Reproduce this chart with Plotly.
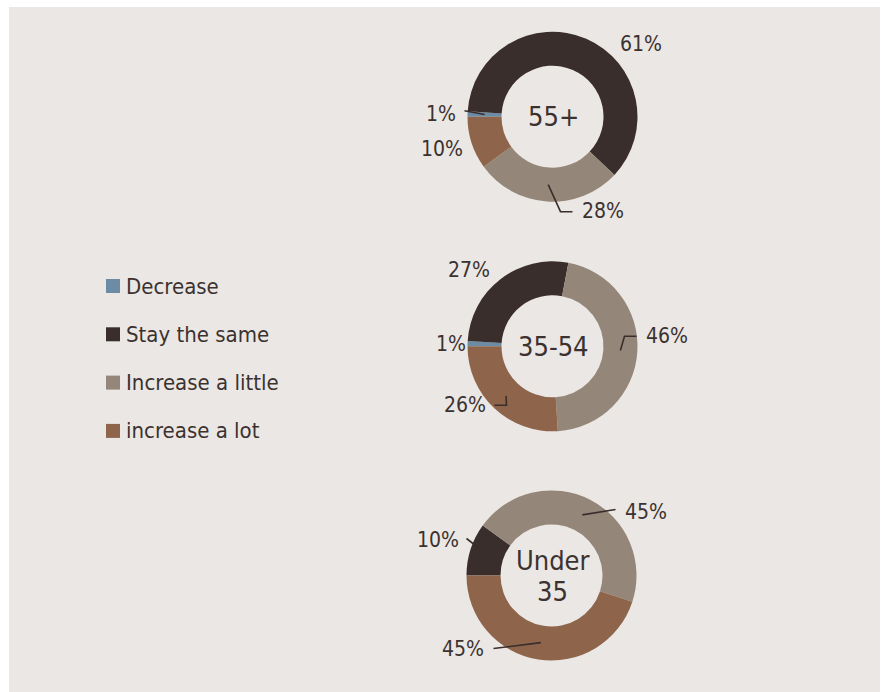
import math
import plotly.graph_objects as go

# ---- data ----
categories = ["Decrease", "Stay the same", "Increase a little", "increase a lot"]
colors = ["#6c8ba4", "#3a2e2c", "#948679", "#8e654b"]
groups = ["55+", "35-54", "Under 35"]
values_55 = [1, 61, 28, 10]
values_35_54 = [1, 27, 46, 26]
values_under35 = [0, 10, 45, 45]
series = [values_55, values_35_54, values_under35]
center_texts = [["55+"], ["35-54"], ["Under", "35"]]

# ---- layout config (pixels) ----
W, H = 885, 692
R = 85
HOLE = 0.6
centers = [(552.5, 116.7), (552.5, 346.3), (551.5, 575.5)]
ROT = 270
FONT = "Liberation Sans Narrow, Arial Narrow, DejaVu Sans Condensed, sans-serif"
TXT = "#3b3230"
BG = "#ebe7e4"

# label placement per group: slice index -> (dx, dy of label centre, leader vertices relative to centre or None)
label_cfg = [
    {0: ((-112, -3), [(-88, -6)]),
     1: ((88, -73), None),
     2: ((50, 94), [(8, 95), (20, 95)]),
     3: ((-111, 32), None)},
    {0: ((-101, -2), None),
     1: ((-83, -76), None),
     2: ((114, -10), [(72, -10), (84, -10)]),
     3: ((-88, 59), [(-46, 59), (-58, 59)])},
    {1: ((-114, -36), [(-85, -37)]),
     2: ((94, -64), [(64, -66)]),
     3: ((-88, 73), [(-58, 73)])},
]

def px(x):
    return x / W

def py(y):
    return 1 - y / H

fig = go.Figure()
shapes = [dict(type="rect", xref="paper", yref="paper", x0=px(9), x1=px(880), y0=py(692), y1=py(7),
               fillcolor=BG, line=dict(width=0), layer="below")]
annotations = []

for gi, (vals, (cx, cy)) in enumerate(zip(series, centers)):
    fig.add_trace(go.Pie(
        labels=categories, values=vals, sort=False, direction="clockwise", rotation=ROT,
        hole=HOLE, textinfo="none", showlegend=False, name=groups[gi],
        marker=dict(colors=colors, line=dict(width=0)),
        domain=dict(x=[px(cx - R), px(cx + R)], y=[py(cy + R), py(cy - R)]),
        hovertemplate="%{label}: %{value}%<extra>" + groups[gi] + "</extra>",
    ))
    total = sum(vals)
    start = ROT
    for si, v in enumerate(vals):
        span = 360 * v / total
        mid = math.radians(start + span / 2)
        start += span
        if si not in label_cfg[gi]:
            continue
        (ldx, ldy), leader = label_cfg[gi][si]
        annotations.append(dict(x=px(cx + ldx), y=py(cy + ldy), xref="paper", yref="paper",
                                text=f"{v}%", showarrow=False, xanchor="center", yanchor="middle",
                                font=dict(family=FONT, size=21, color=TXT)))
        if leader:
            rm = R * (1 + HOLE) / 2
            pts = [(cx + rm * math.sin(mid), cy - rm * math.cos(mid))]
            pts += [(cx + a, cy + b) for a, b in leader]
            path = "M " + " L ".join(f"{px(x):.5f},{py(y):.5f}" for x, y in pts)
            shapes.append(dict(type="path", xref="paper", yref="paper", path=path,
                               line=dict(color="#3a2e2c", width=1.6), layer="above"))
    lines = center_texts[gi]
    n = len(lines)
    for li, t in enumerate(lines):
        off = (li - (n - 1) / 2) * 31
        annotations.append(dict(x=px(cx + 1), y=py(cy + off), xref="paper", yref="paper",
                                text=t, showarrow=False, xanchor="center", yanchor="middle",
                                font=dict(family=FONT, size=27, color=TXT)))

# manual legend
leg_x, leg_y0, leg_dy = 106, 286, 48.3
for i, (cat, col) in enumerate(zip(categories, colors)):
    y = leg_y0 + i * leg_dy
    shapes.append(dict(type="rect", xref="paper", yref="paper", x0=px(leg_x), x1=px(leg_x + 14),
                       y0=py(y + 7), y1=py(y - 7), fillcolor=col, line=dict(width=0)))
    annotations.append(dict(x=px(leg_x + 18), y=py(y), xref="paper", yref="paper", text=cat,
                            showarrow=False, xanchor="left", yanchor="middle",
                            font=dict(family=FONT, size=22, color=TXT)))

fig.update_layout(width=W, height=H, margin=dict(l=0, r=0, t=0, b=0),
                  paper_bgcolor="white", plot_bgcolor="white",
                  shapes=shapes, annotations=annotations, showlegend=False)
fig.write_html("out.html")
